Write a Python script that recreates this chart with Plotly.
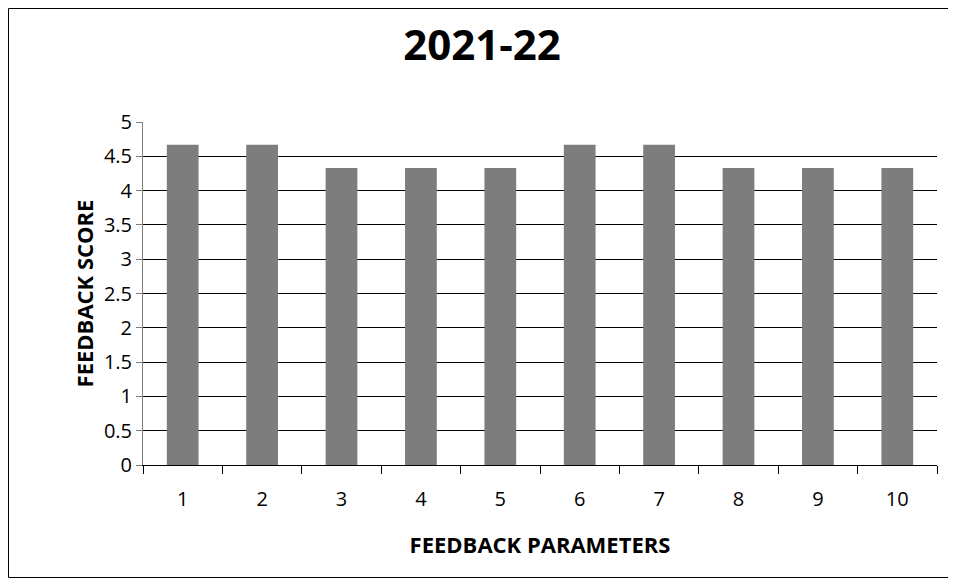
import plotly.graph_objects as go

categories = ["1", "2", "3", "4", "5", "6", "7", "8", "9", "10"]
scores = [4.67, 4.67, 4.33, 4.33, 4.33, 4.67, 4.67, 4.33, 4.33, 4.33]
y_ticks = [0, 0.5, 1, 1.5, 2, 2.5, 3, 3.5, 4, 4.5, 5]
y_labels = ["0", "0.5", "1", "1.5", "2", "2.5", "3", "3.5", "4", "4.5", "5"]

fig = go.Figure()
fig.add_trace(go.Bar(
    x=categories, y=scores,
    marker=dict(color="#7d7d7d", line=dict(width=0)),
    width=0.4,
))

# page body adds an 8px offset; figure coordinates below are screen - 8
W, H = 948, 574
ml, mt = 135, 114
plot_right, plot_bottom = 929, 457
mr, mb = W - plot_right, H - plot_bottom
pw, ph = plot_right - ml, plot_bottom - mt

def px(x):
    return (x - ml) / pw

def py(y):
    return (plot_bottom - y) / ph

fig.update_layout(
    width=W, height=H,
    margin=dict(l=ml, r=mr, t=mt, b=mb, autoexpand=False),
    paper_bgcolor="white", plot_bgcolor="white",
    showlegend=False,
    font=dict(family="Open Sans, Liberation Sans, sans-serif", color="black"),
    title=dict(text="<b>2021-22</b>", x=474 / W, xanchor="center", y=1 - 37 / H, yanchor="middle",
               font=dict(size=42, color="black")),
    xaxis=dict(
        type="category", tickson="boundaries", ticks="outside", ticklen=8,
        tickcolor="black", showline=True, linecolor="black", linewidth=1,
        showgrid=False, tickfont=dict(size=20), ticklabelstandoff=16,
        title=dict(text="<b>FEEDBACK PARAMETERS</b>", font=dict(size=22), standoff=26),
    ),
    yaxis=dict(
        range=[0, 5], tickvals=y_ticks, ticktext=y_labels,
        ticks="outside", ticklen=6, tickcolor="#808080",
        showline=True, linecolor="#808080", linewidth=1,
        showgrid=True, gridcolor="black", gridwidth=1, zeroline=False,
        tickfont=dict(size=20),
        title=dict(text="<b>FEEDBACK SCORE</b>", font=dict(size=22), standoff=4),
    ),
    shapes=[dict(type="rect", xref="paper", yref="paper",
                 x0=px(0.5), x1=px(943.5), y0=py(569.5), y1=py(0.5),
                 line=dict(color="black", width=1))],
)

fig.write_html("out.html")
